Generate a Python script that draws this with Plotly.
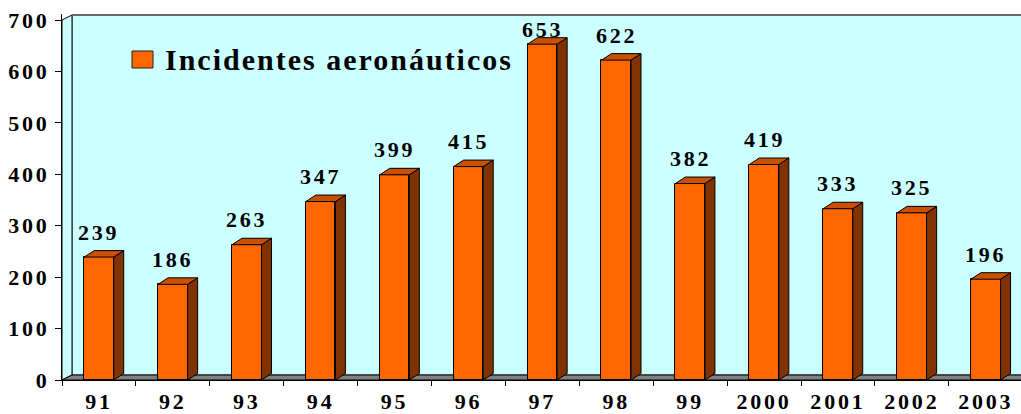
import numpy as np
import plotly.graph_objects as go

# ---------------- data ----------------
years = ["91", "92", "93", "94", "95", "96", "97", "98", "99", "2000", "2001", "2002", "2003"]
incidents = [239, 186, 263, 347, 399, 415, 653, 622, 382, 419, 333, 325, 196]
series_name = "Incidentes aeronáuticos"
y_ticks = [0, 100, 200, 300, 400, 500, 600, 700]

# ---------------- style ----------------
FRONT, TOP, SIDE = "#FF6600", "#C85000", "#803300"
WALL, FLOOR = "#CCFFFF", "#808080"
FONT = "Liberation Serif"

W, H = 1021, 414
ML, MR, MT, MB = 62, 0, 14, 34
PX_PER_CAT = 73.9
PX_PER_UNIT = 360 / 700
x_lo = -0.5
x_hi = x_lo + (W - ML - MR) / PX_PER_CAT
y_hi = (H - MT - MB) / PX_PER_UNIT


def dxp(p):
    return p / PX_PER_CAT


def dyp(p):
    return p / PX_PER_UNIT


def px_x(p):
    return x_lo + (p - ML) / PX_PER_CAT


def px_y(p):
    return (H - MB - p) / PX_PER_UNIT


def spaced(t, sp=2.8):
    return f'<span style="letter-spacing:{sp}px">{t}</span>'


wall_dx, wall_dy = dxp(10), dyp(5)
bar_dx, bar_dy = dxp(10), dyp(6.5)
bar_w = 0.4
ymax = y_ticks[-1]
xs = np.arange(len(years))
vals = np.array(incidents, dtype=float)

fig = go.Figure()

# front faces of the columns
fig.add_trace(go.Bar(
    x=xs, y=vals, width=bar_w, name=series_name,
    marker=dict(color=FRONT, line=dict(color="black", width=1)),
    showlegend=False, hoverinfo="skip",
))

# side and top faces of the columns (derived from the data)
sx, sy, tx, ty = [], [], [], []
for x, v in zip(xs, vals):
    r = x + bar_w / 2
    l = x - bar_w / 2
    sx += [r, r, r + bar_dx, r + bar_dx, r, None]
    sy += [0, v, v + bar_dy, bar_dy, 0, None]
    tx += [l, r, r + bar_dx, l + bar_dx, l, None]
    ty += [v, v, v + bar_dy, v + bar_dy, v, None]

fig.add_trace(go.Scatter(x=sx, y=sy, mode="lines", fill="toself", fillcolor=SIDE,
                         line=dict(color="black", width=1), showlegend=False, hoverinfo="skip"))
fig.add_trace(go.Scatter(x=tx, y=ty, mode="lines", fill="toself", fillcolor=TOP,
                         line=dict(color="black", width=1), showlegend=False, hoverinfo="skip"))

# walls and floor (behind the columns)
xr = x_hi + 1
shapes = [
    dict(type="path", layer="below", xref="x", yref="y",
         path=f"M{x_lo + wall_dx},{wall_dy} L{x_lo + wall_dx},{ymax + wall_dy} L{xr},{ymax + wall_dy} L{xr},{wall_dy} Z",
         fillcolor=WALL, line=dict(color="#333333", width=1)),
    dict(type="path", layer="below", xref="x", yref="y",
         path=f"M{x_lo},0 L{x_lo},{ymax} L{x_lo + wall_dx},{ymax + wall_dy} L{x_lo + wall_dx},{wall_dy} Z",
         fillcolor=WALL, line=dict(color="black", width=1)),
    dict(type="path", layer="below", xref="x", yref="y",
         path=f"M{x_lo},0 L{xr},0 L{xr + wall_dx},{wall_dy} L{x_lo + wall_dx},{wall_dy} Z",
         fillcolor=FLOOR, line=dict(color="black", width=1)),
    dict(type="line", layer="below", xref="x", yref="y",
         x0=x_lo + wall_dx, x1=xr, y0=ymax + wall_dy, y1=ymax + wall_dy,
         line=dict(color="#6A6A6A", width=2)),
    # legend key
    dict(type="rect", layer="above", xref="x", yref="y",
         x0=px_x(132), x1=px_x(153), y0=px_y(68), y1=px_y(51),
         fillcolor=FRONT, line=dict(color="#222222", width=1)),
]

annotations = []
label_cap = 682
for x, v in zip(xs, vals):
    shift = min(25, (label_cap - v) * PX_PER_UNIT)
    annotations.append(dict(
        x=x, y=v, xref="x", yref="y", text=spaced(str(int(v))), showarrow=False,
        xanchor="center", yanchor="middle", yshift=shift,
        font=dict(family=FONT, size=22, color="black", weight="bold"),
    ))
annotations.append(dict(
    x=px_x(163), y=px_y(59), xref="x", yref="y", text=spaced(series_name, 2.0),
    showarrow=False, xanchor="left", yanchor="middle",
    font=dict(family=FONT, size=30, color="black", weight="bold"),
))

fig.update_layout(
    width=W, height=H,
    margin=dict(l=ML, r=MR, t=MT, b=MB, pad=0, autoexpand=False),
    paper_bgcolor="white", plot_bgcolor="white",
    showlegend=False,
    shapes=shapes, annotations=annotations,
    bargap=0,
    xaxis=dict(
        range=[x_lo, x_hi], tickmode="array", tickvals=xs,
        ticktext=[spaced(y) for y in years], ticks="",
        tickfont=dict(family=FONT, size=22, color="black", weight="bold"),
        showgrid=False, zeroline=False, showline=True, linecolor="black", linewidth=1,
        ticklabelstandoff=2, automargin=False,
        minor=dict(tickmode="array", tickvals=list(np.arange(len(years) + 1) - 0.5),
                   ticks="outside", ticklen=5, tickcolor="black", tickwidth=1, showgrid=False),
        fixedrange=True,
    ),
    yaxis=dict(
        range=[0, y_hi], tickmode="array", tickvals=y_ticks,
        ticktext=[spaced(str(t)) for t in y_ticks],
        ticks="outside", ticklen=6, tickcolor="black", tickwidth=1,
        tickfont=dict(family=FONT, size=22, color="black", weight="bold"),
        showgrid=False, zeroline=False, showline=True, linecolor="black", linewidth=1,
        ticklabelstandoff=1, automargin=False,
        fixedrange=True,
    ),
)

fig.write_html("out.html")
